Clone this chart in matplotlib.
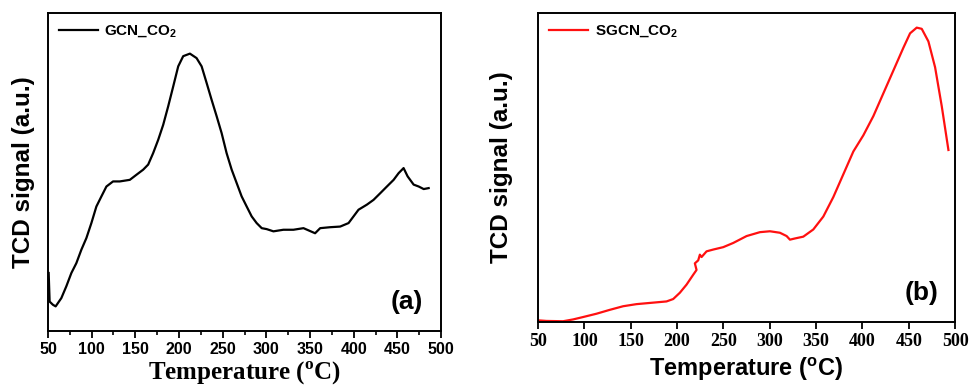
import numpy as np
import matplotlib.pyplot as plt
from matplotlib.ticker import MultipleLocator

# panel (a): GCN_CO2, temperature (C) vs TCD signal (arb. units)
temp_a = [50.8, 51.9, 55.7, 58.8, 65.3, 71.0, 76.8, 82.5, 88.2, 94.0, 99.7, 105.4,
          111.2, 116.9, 124.5, 132.2, 143.7, 151.3, 159.0, 164.7, 170.4, 176.2,
          181.9, 187.6, 193.4, 199.1, 204.8, 212.5, 220.1, 225.9, 231.6, 237.3,
          243.1, 248.8, 254.5, 260.3, 266.0, 271.7, 277.5, 283.2, 288.9, 294.7,
          300.4, 308.1, 319.5, 331.0, 342.5, 355.8, 361.6, 373.0, 384.5, 394.1,
          399.8, 405.5, 415.1, 422.7, 430.4, 438.0, 445.7, 451.4, 457.1, 461.7,
          468.6, 474.4, 480.1, 485.8]
signal_a = [18.2, 9.2, 8.2, 7.7, 10.3, 14.0, 18.2, 21.3, 25.5, 29.2, 33.9, 39.1,
            42.3, 45.4, 47.0, 47.0, 47.5, 49.1, 50.7, 52.3, 55.9, 60.1,
            64.8, 70.6, 76.9, 83.2, 86.4, 87.2, 85.8, 83.2, 78.0, 72.7,
            67.5, 62.2, 55.9, 50.7, 46.5, 42.3, 39.1, 36.0, 33.9, 32.3,
            32.0, 31.3, 31.8, 31.8, 32.3, 30.7, 32.3, 32.6, 32.8, 33.9,
            36.0, 38.1, 39.7, 41.2, 43.3, 45.4, 47.5, 49.6, 51.2, 48.6,
            46.0, 45.4, 44.6, 44.9]

# panel (b): SGCN_CO2
temp_b = [50.0, 59.0, 77.0, 87.8, 98.6, 113.0, 127.4, 141.8, 156.2, 174.2, 188.6,
          195.8, 203.0, 210.2, 217.4, 221.0, 219.2, 222.8, 224.6, 226.4, 231.8,
          239.0, 249.8, 260.6, 275.0, 289.4, 300.2, 311.0, 318.2, 321.8, 327.2,
          336.2, 347.0, 357.8, 368.6, 379.4, 390.2, 401.0, 411.8, 422.6, 433.4,
          444.2, 451.4, 458.6, 464.0, 471.2, 478.4, 485.6, 492.8]
signal_b = [0.5, 0.3, 0.2, 0.8, 1.6, 2.7, 4.0, 5.2, 5.9, 6.4, 6.8,
            7.6, 9.7, 12.4, 15.7, 17.3, 19.5, 20.5, 22.4, 21.6, 23.5,
            24.1, 24.9, 26.3, 28.6, 29.9, 30.2, 29.7, 28.6, 27.4, 27.8,
            28.4, 30.8, 35.1, 41.6, 49.2, 56.8, 62.2, 68.6, 76.2, 83.8,
            91.4, 96.2, 98.1, 97.7, 93.5, 84.9, 71.9, 57.3]

xticks = [50, 100, 150, 200, 250, 300, 350, 400, 450, 500]

SANS = 'Liberation Sans'
SERIF = 'Liberation Serif'

fig = plt.figure(figsize=(9.73, 3.92), dpi=100)
ax1 = fig.add_axes([0.0493, 0.156, 0.404, 0.811])
ax2 = fig.add_axes([0.553, 0.179, 0.4286, 0.788])

ax1.plot(temp_a, signal_a, color='black', lw=1.6, label='GCN_CO$_\\mathregular{2}$')
ax2.plot(temp_b, signal_b, color='#ff1010', lw=1.6, label='SGCN_CO$_\\mathregular{2}$')

ax1.set_ylim(0, 100)
ax2.set_ylim(0, 103)

for ax in (ax1, ax2):
    ax.set_xlim(50, 500)
    ax.set_xticks(xticks)
    ax.set_yticks([])
    for s in ax.spines.values():
        s.set_linewidth(1.4)
    ax.tick_params(axis='x', direction='out', length=5, width=1.3, pad=3)

ax1.xaxis.set_minor_locator(MultipleLocator(25))
ax1.tick_params(axis='x', which='minor', direction='out', length=3, width=1.2)

for lab in ax1.get_xticklabels():
    lab.set_fontfamily(SANS)
    lab.set_fontweight('bold')
    lab.set_fontsize(11.5)
for lab in ax2.get_xticklabels():
    lab.set_fontfamily(SERIF)
    lab.set_fontweight('bold')
    lab.set_fontsize(13)

ax1.set_xlabel('Temperature ($^\\mathregular{o}$C)', family=SERIF, weight='bold', fontsize=18, labelpad=2)
ax2.set_xlabel('Temperature ($^\\mathregular{o}$C)', family=SANS, weight='bold', fontsize=17, labelpad=4)
ax1.set_ylabel('TCD signal (a.u.)', family=SANS, weight='bold', fontsize=17.5, labelpad=9)
ax2.set_ylabel('TCD signal (a.u.)', family=SANS, weight='bold', fontsize=17.5, labelpad=18)

ax1.text(0.955, 0.09, '(a)', transform=ax1.transAxes, ha='right', va='center',
         family=SANS, weight='bold', fontsize=19)
ax2.text(0.96, 0.094, '(b)', transform=ax2.transAxes, ha='right', va='center',
         family=SANS, weight='bold', fontsize=19)

for ax in (ax1, ax2):
    ax.legend(loc='upper left', frameon=False, handlelength=2.6, handletextpad=0.4,
              borderaxespad=0.3, prop={'family': SANS, 'weight': 'bold', 'size': 11})

fig.savefig('out.png', dpi=100)
